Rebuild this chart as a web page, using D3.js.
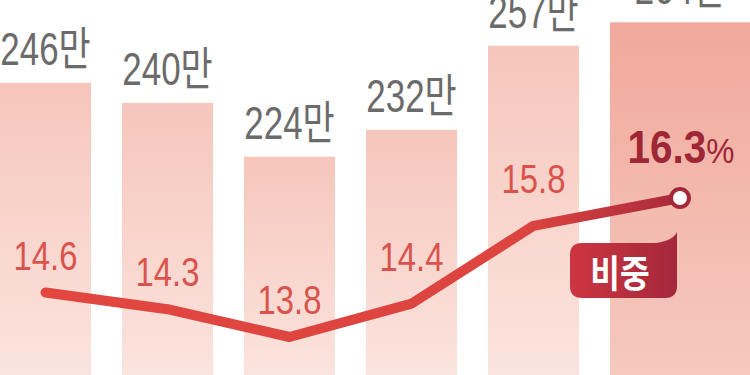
<!DOCTYPE html>
<meta charset="utf-8">
<script src="https://d3js.org/d3.v7.min.js"></script>
<style>
  body { margin: 0; background: #fff; }
</style>
<svg id="chart" width="750" height="375"></svg>
<script>
  // values
  var years = ["y1", "y2", "y3", "y4", "y5", "y6"];
  var counts = [246, 240, 224, 232, 257, 264];      // 만 명
  var shares = [14.6, 14.3, 13.8, 14.4, 15.8, 16.3]; // %

  var svg = d3.select("#chart"),
      width = +svg.attr("width"),
      height = +svg.attr("height");

  // no condensed font installed, so squeeze the text horizontally
  var font = "'Liberation Sans', 'Noto Sans CJK KR', sans-serif";

  var x = d3.scaleBand()
      .domain(d3.range(years.length))
      .range([0, 701])
      .paddingInner(0.254)
      .paddingOuter(0);

  var yBar = d3.scaleLinear().domain([159, 264]).range([height, 22.3]);
  var yLine = d3.scaleLinear().domain([13.8, 16.3]).range([337, 198]);

  var last = years.length - 1;
  function barW(i) { return i === last ? width - x(i) : x.bandwidth(); }
  function cx(i) { return x(i) + barW(i) / 2; }

  var defs = svg.append("defs");
  var g1 = defs.append("linearGradient").attr("id", "barFill").attr("x1", 0).attr("y1", 0).attr("x2", 0).attr("y2", 1);
  g1.append("stop").attr("offset", "0").attr("stop-color", "#f6c6bb");
  g1.append("stop").attr("offset", "1").attr("stop-color", "#fbe4de");
  var g2 = defs.append("linearGradient").attr("id", "barLast").attr("x1", 0).attr("y1", 0).attr("x2", 0).attr("y2", 1);
  g2.append("stop").attr("offset", "0").attr("stop-color", "#f1a99c");
  g2.append("stop").attr("offset", "1").attr("stop-color", "#f6c9bf");
  var g3 = defs.append("linearGradient").attr("id", "lineFill")
      .attr("gradientUnits", "userSpaceOnUse")
      .attr("x1", 40).attr("y1", 0).attr("x2", 690).attr("y2", 0);
  g3.append("stop").attr("offset", "0").attr("stop-color", "#e2463f");
  g3.append("stop").attr("offset", "0.75").attr("stop-color", "#dc4440");
  g3.append("stop").attr("offset", "1").attr("stop-color", "#a5283a");
  var g4 = defs.append("linearGradient").attr("id", "tagFill").attr("x1", 0).attr("y1", 0).attr("x2", 1).attr("y2", 0);
  g4.append("stop").attr("offset", "0").attr("stop-color", "#cd3540");
  g4.append("stop").attr("offset", "1").attr("stop-color", "#a3283a");

  // bars
  svg.append("g")
    .selectAll("rect")
    .data(counts)
    .enter()
    .append("rect")
      .attr("x", function(d, i) { return x(i); })
      .attr("y", function(d) { return yBar(d); })
      .attr("width", function(d, i) { return barW(i); })
      .attr("height", function(d) { return height - yBar(d); })
      .attr("fill", function(d, i) { return i === last ? "url(#barLast)" : "url(#barFill)"; });

  // bar labels
  svg.append("g")
    .selectAll("text")
    .data(counts)
    .enter()
    .append("text")
      .attr("transform", function(d, i) { return "translate(" + cx(i) + "," + (yBar(d) - 18) + ") scale(0.76,1)"; })
      .attr("text-anchor", "middle")
      .style("font-family", font)
      .style("font-size", "46px")
      .style("fill", "#6b6b6b")
      .text(function(d) { return d + "만"; });

  // share line
  var line = d3.line()
      .x(function(d, i) { return cx(i); })
      .y(function(d) { return yLine(d); });

  svg.append("path")
    .datum(shares)
    .attr("d", line)
    .attr("fill", "none")
    .attr("stroke", "url(#lineFill)")
    .attr("stroke-width", 10)
    .attr("stroke-linecap", "round")
    .attr("stroke-linejoin", "round");

  // share labels
  svg.append("g")
    .selectAll("text")
    .data(shares.slice(0, last))
    .enter()
    .append("text")
      .attr("transform", function(d, i) {
        var up = (i > 0 && d > shares[i - 1]) ? 33 : 23; // rising segment: lift the label clear of the line
        return "translate(" + cx(i) + "," + (yLine(d) - up) + ") scale(0.8,1)";
      })
      .attr("text-anchor", "middle")
      .style("font-family", font)
      .style("font-size", "41px")
      .style("fill", "#d9534c")
      .text(function(d) { return d.toFixed(1); });

  // last point
  svg.append("circle")
    .attr("cx", cx(last))
    .attr("cy", yLine(shares[last]))
    .attr("r", 9)
    .attr("fill", "#fff")
    .attr("stroke", "#a3283a")
    .attr("stroke-width", 4);

  var lastLabel = svg.append("text")
    .attr("transform", "translate(" + (cx(last) + 1) + "," + (yLine(shares[last]) - 35) + ") scale(0.88,1)")
    .attr("text-anchor", "middle")
    .style("font-family", font)
    .style("fill", "#9e2635");
  lastLabel.append("tspan")
    .style("font-size", "46px")
    .style("font-weight", "bold")
    .text(shares[last].toFixed(1));
  lastLabel.append("tspan")
    .style("font-size", "36px")
    .text("%");

  // tag "비중"
  var tx = 570, ty = 243, tw = 107, th = 55, r = 12;
  svg.append("path")
    .attr("d", "M" + (tx + r) + "," + ty +
      " L" + (tx + tw - 22) + "," + ty +
      " Q" + (tx + tw - 4) + "," + (ty - 2) + " " + (tx + tw) + "," + (ty - 11) +
      " L" + (tx + tw) + "," + (ty + th - r) +
      " Q" + (tx + tw) + "," + (ty + th) + " " + (tx + tw - r) + "," + (ty + th) +
      " L" + (tx + r) + "," + (ty + th) +
      " Q" + tx + "," + (ty + th) + " " + tx + "," + (ty + th - r) +
      " L" + tx + "," + (ty + r) +
      " Q" + tx + "," + ty + " " + (tx + r) + "," + ty + " Z")
    .attr("fill", "url(#tagFill)");

  svg.append("text")
    .attr("transform", "translate(" + (tx + 50) + "," + (ty + 44) + ") scale(0.85,1)")
    .attr("text-anchor", "middle")
    .style("font-family", "'Noto Sans CJK KR', sans-serif")
    .style("font-weight", "bold")
    .style("font-size", "38px")
    .style("fill", "#fff")
    .text("비중");
</script>
